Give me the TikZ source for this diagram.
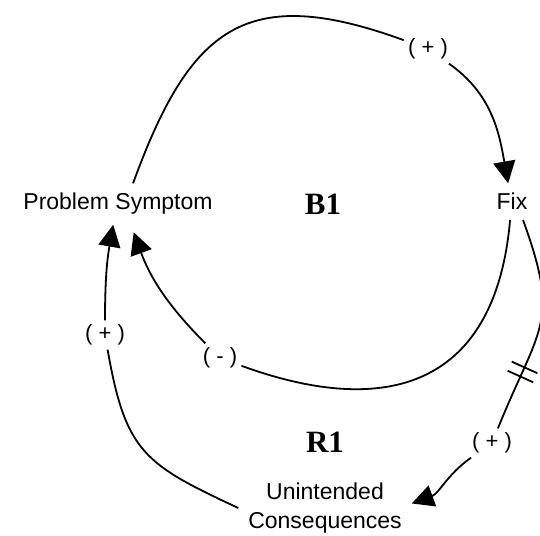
\documentclass[tikz,border=0pt]{standalone}
\usepackage{fontspec}
\setmainfont{Liberation Sans}
\newfontfamily\loopfont{Liberation Serif}
\usetikzlibrary{arrows.meta,decorations.markings}
\tikzset{>={Triangle[width=11pt,length=11pt]}}
\tikzset{
  var/.style={font=\fontsize{11.5}{14.5}\selectfont,inner sep=2pt,outer sep=3pt,align=center},
  sign/.style={font=\fontsize{11}{13}\selectfont,inner sep=2pt},
  loopname/.style={font=\loopfont\bfseries\fontsize{15.5}{18}\selectfont},
  link/.style={line width=0.9pt},
  delay/.style={postaction={decorate},decoration={markings,mark=at position #1 with
    {\draw[line width=0.9pt] (-2.5pt,-7pt) -- (-2.5pt,7pt) (2.5pt,-7pt) -- (2.5pt,7pt);}}}
}

\begin{document}
\begin{tikzpicture}[x=0.5pt,y=0.5pt]
		% border
		\useasboundingbox (0,0) rectangle (540,535);

		% variables
		\node[var,anchor=base] (sym) at (118,325) {Problem Symptom};
		\node[var,anchor=base] (fix) at (512,325) {Fix};
		\node[var] (unc) at (325,27) {Unintended\\Consequences};

		% loop names
		\node[loopname] (b1) at (323,331) {B1};
		\node[loopname] (r1) at (325,93) {R1};

		% polarities
		\node[sign] (pfix) at (428,486) {( + )};
		\node[sign] (psym) at (105,200) {( + )};
		\node[sign] (nsym) at (220,177) {( - )};
		\node[sign] (punc) at (492,92) {( + )};

		% balancing loop
		\draw[link] (sym.54) to[out=70,in=160,looseness=1.4] (pfix);
		\draw[link,->] (pfix) to[out=-35,in=100] (fix.102);
		\draw[link] (fix.-96) to[out=-95,in=-20,looseness=1.35] (nsym);
		\draw[link,->,shorten >=4pt] (nsym) to[out=135,in=-70] (sym.-58);

		% reinforcing loop, with delay
		\draw[link,delay=0.72] (fix.-59) to[out=-70,in=68,looseness=1.35] (punc);
		\draw[link,->] (punc) to[out=215,in=20] (unc.3);
		\draw[link] (unc.west) to[out=155,in=-80,looseness=1.3] (psym);
		\draw[link,->] (psym) to[out=90,in=-100] (sym.-103);
\end{tikzpicture}
\end{document}
